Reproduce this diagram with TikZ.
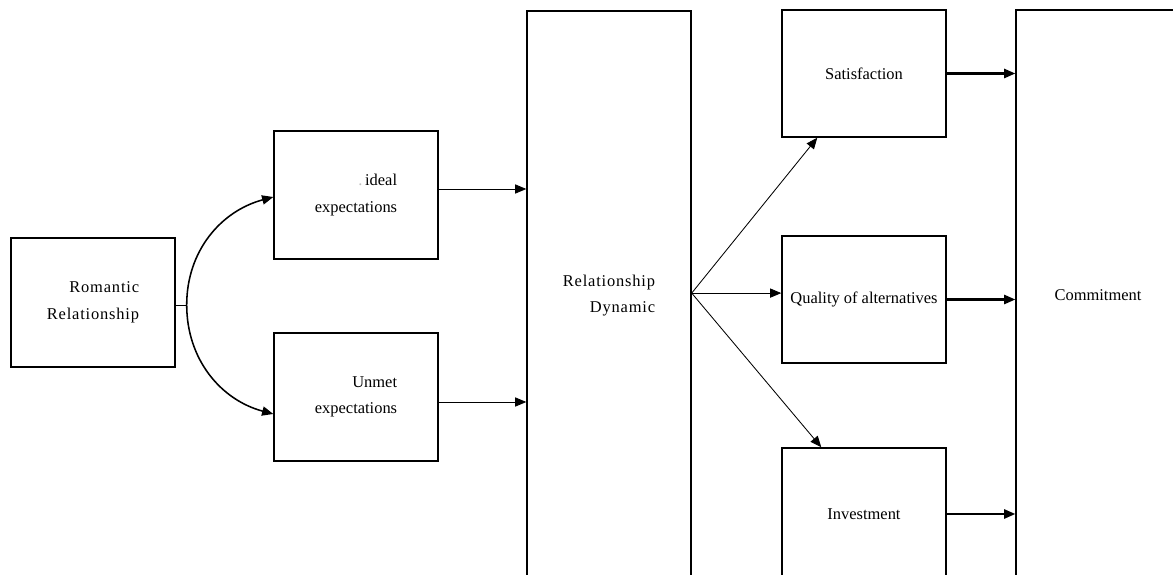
\documentclass[tikz,border=0pt]{standalone}
\usepackage{fontspec}
\setmainfont{Liberation Serif}
\usetikzlibrary{positioning,arrows.meta,calc}
\tikzset{
  >={Triangle[length=2.8mm,width=2.3mm]},
}

\begin{document}
\begin{tikzpicture}[
  every node/.style={font=\fontsize{11.7}{19}\selectfont},
  block/.style={draw, line width=1pt, minimum width=4.1cm, minimum height=3.2cm, align=right, inner sep=1pt},
  spaced/.style={font={\fontsize{11.7}{19}\selectfont\addfontfeature{LetterSpace=5}}},
  thin/.style={->, line width=0.6pt},
  bold/.style={->, line width=1.5pt}
]
\useasboundingbox (0,0) rectangle (29.325,14.375);
\clip (0,0) rectangle (29.325,14.375);

% boxes
\node[block, spaced, minimum height=3.225cm] (rom) at (2.325,6.8125) {Romantic\\Relationship};
\node[block] (ideal) at (8.9,9.5) {{\color{lightgray}.}\,ideal\\expectations};
\node[block] (unmet) at (8.9,4.45) {Unmet\\expectations};
\node[block, spaced, minimum height=14.225cm] (dyn) at (15.225,6.9875) {Relationship\\Dynamic};
\node[block, minimum height=3.175cm] (sat) at (21.6,12.5375) {Satisfaction};
\node[block, minimum height=3.175cm] (qual) at (21.6,6.8875) {Quality of alternatives};
\node[block, minimum height=3.3cm] (inv) at (21.6,1.525) {Investment};
\node[block, minimum height=14.25cm] (com) at (27.45,7.0) {Commitment};

% left branch
\coordinate (j) at ($(rom.east)+(0.275,-0.06)$);
\draw[line width=0.5pt] ($(rom.east)+(0,-0.06)$) -- (j);
\draw[->, line width=1.1pt] (j) to[out=90, in=195] ([yshift=-0.05cm]ideal.west);
\draw[->, line width=1.1pt] (j) to[out=-90, in=165] ([yshift=-0.425cm]unmet.west);

% into the dynamic
\draw[thin] ([yshift=0.15cm]ideal.east) -- ([yshift=0.15cm]ideal.east -| dyn.west);
\draw[thin] ([yshift=-0.125cm]unmet.east) -- ([yshift=-0.125cm]unmet.east -| dyn.west);

% fan out
\draw[thin] ([yshift=0.06cm]dyn.east) -- ($(sat.south west)+(0.9,0)$);
\draw[thin] ([yshift=0.06cm]dyn.east) -- ([yshift=0.06cm]dyn.east -| qual.west);
\draw[thin] ([yshift=0.06cm]dyn.east) -- ($(inv.north west)+(1.0,0)$);

% into commitment
\draw[bold] (sat.east) -- (sat.east -| com.west);
\draw[bold] (qual.east) -- (qual.east -| com.west);
\draw[bold] (inv.east) -- (inv.east -| com.west);
\end{tikzpicture}
\end{document}
